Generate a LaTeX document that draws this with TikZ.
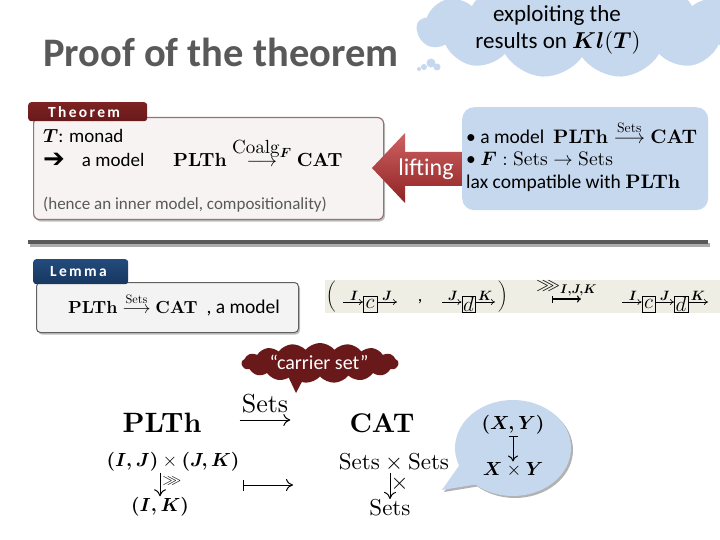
\RequirePackage{fix-cm}
\documentclass[tikz,border=0pt]{standalone}
\usepackage{amsmath,amssymb}
\usepackage[no-math]{fontspec}
\setmainfont{Carlito}
\newfontfamily\dejavu{DejaVu Sans}
\DeclareFontShape{OT1}{cmr}{m}{n}{<-8> cmr7 <8-> cmr10}{}
\DeclareFontShape{OT1}{cmr}{bx}{n}{<-8> cmbx7 <8-> cmbx10}{}
\usetikzlibrary{shapes.symbols,shapes.callouts,arrows.meta,shadows}
\newcommand\fsz[1]{\fontsize{#1}{#1}\selectfont}
\newcommand\bsy[1]{\boldsymbol{#1}}
\definecolor{dred}{RGB}{105,25,25}
\definecolor{dredtop}{RGB}{125,35,35}
\definecolor{dblue}{RGB}{23,55,94}
\definecolor{dbluetop}{RGB}{35,75,125}
\definecolor{lblue}{RGB}{198,216,238}
\definecolor{tgray}{RGB}{89,89,89}
\definecolor{liftred}{RGB}{190,45,45}
\definecolor{stripc}{RGB}{238,238,228}
\definecolor{thmfill}{RGB}{247,243,243}
\definecolor{thmborder}{RGB}{150,115,115}
\definecolor{lemfill}{RGB}{243,243,243}
\begin{document}
\begin{tikzpicture}[x=1pt,y=-1pt,
  every node/.style={inner sep=0pt},
  fs/.style={font=\fsz{#1}},
  sarr/.style={line width=0.6pt,-{Computer Modern Rightarrow[length=4pt,width=6pt]}},
  lab/.style={above=1.5pt,font=\fsz{13.5}},
  cbox/.style={draw,line width=0.5pt,minimum width=13.5pt,minimum height=16pt,font=\fsz{21}},
  bigarr/.style={line width=1pt,-{Computer Modern Rightarrow[length=7pt,width=12pt]}},
  mapsarr/.style={line width=1pt,{Bar[width=11pt]}-{Computer Modern Rightarrow[length=7pt,width=12pt]}},
  tabtext/.style={text=white,font=\fsz{#1}\bfseries\addfontfeatures{LetterSpace=15}},
]
\useasboundingbox (0,0) rectangle (720,540);
\fill[white] (0,0) rectangle (720,540);

% ---- top cloud
\node[cloud, cloud puffs=13, cloud puff arc=115, aspect=3.4, fill=lblue,
      minimum width=330pt, minimum height=100pt] (kcloud) at (582,28) {};
\fill[lblue] (431,63) circle (4.5pt) (424,67) circle (3pt) (437,67) circle (3.5pt) (419,69) circle (2pt);
\node[fs=23] (kc1) at (557,15) {exploiting the};
\node[fs=23] (kc2) at (558,43) {results on $\bsy{Kl}(\bsy{T})$};

% ---- title
\node[anchor=base west, text=tgray, font=\fsz{40.5}\bfseries] (title) at (43,67) {Proof of the theorem};

% ---- theorem box
\node[draw=thmborder, fill=thmfill, rounded corners=6pt, line width=1.2pt,
      minimum width=350pt, minimum height=102pt, anchor=north west,
      drop shadow={shadow xshift=1.5pt,shadow yshift=-2pt,fill=gray,opacity=.5}] (thm) at (33,117) {};
\node[top color=dredtop, bottom color=dred, rounded corners=3pt, anchor=north west,
      minimum width=119pt, minimum height=19pt] (thmtab) at (28,102) {};
\node[tabtext=15.5, anchor=west] (thmtxt) at (48,112) {Theorem};
\node[fs=19, anchor=base west] (t1) at (43,143) {$\bsy{T}$: monad};
\node[fs=19, anchor=base west] (t2) at (43,167) {{\dejavu\fsz{26}\raisebox{-1pt}{➔}}\hspace{17pt}a model};
\node[fs=19, anchor=base west] (t3) at (173,167) {$\mathbf{PLTh}\stackrel{\textstyle\mathrm{Coalg}_{\bsy{F}}}{\longrightarrow}\mathbf{CAT}$};
\node[fs=17, anchor=base west, text=tgray] (t4) at (43,210) {(hence an inner model, compositionality)};

% ---- lifting arrow
\shade[top color=liftred!75!white, bottom color=liftred!75!black]
  (372,168) -- (405,133) -- (405,152) -- (470,152) -- (470,186) -- (405,186) -- (405,203) -- cycle;
\node[fs=24, text=white] (lift) at (426,169) {lifting};

% ---- blue box
\node[fill=lblue, rounded corners=12pt, minimum width=246pt, minimum height=103pt, anchor=north west] (bbox) at (462,107) {};
\node[fs=19.5, anchor=base west] (b1) at (466,144) {\textbullet\ a model\ \ $\mathbf{PLTh}\stackrel{\mathrm{Sets}}{\longrightarrow}\mathbf{CAT}$};
\node[fs=19.5, anchor=base west] (b2) at (466,166) {\textbullet\ $\bsy{F}:\mathrm{Sets}\rightarrow\mathrm{Sets}$};
\node[fs=19.5, anchor=base west] (b3) at (466,189) {lax compatible with $\mathbf{PLTh}$};

% ---- separator
\fill[gray!65] (30,243) rectangle (710,247);
\fill[tgray] (28,240) rectangle (708,244);

% ---- lemma
\node[draw=gray!75!black, fill=lemfill, rounded corners=4pt, line width=1pt,
      minimum width=262pt, minimum height=50pt, anchor=north west,
      drop shadow={shadow xshift=1.5pt,shadow yshift=-2pt,fill=gray,opacity=.5}] (lembox) at (36,282) {};
\node[top color=dbluetop, bottom color=dblue, rounded corners=3pt, anchor=north west,
      minimum width=95pt, minimum height=25pt] (lemtab) at (33,259) {};
\node[tabtext=15.5, anchor=west] (lemtxt) at (50,272) {Lemma};
\node[fs=17.5, anchor=base west] (l1) at (68,313) {$\mathbf{PLTh}\stackrel{\mathrm{Sets}}{\longrightarrow}\mathbf{CAT}$\hspace{9pt}{\fsz{19.5}, a model}};

% ---- strip
\node[fill=stripc, minimum width=395pt, minimum height=33pt, anchor=north west] (strip) at (325,280) {};
\node[fs=13] (lp) at (331,297) {$\biggl($};
\node[fs=13] (rp) at (503,297) {$\biggr)$};
\coordinate (i1) at (343,302);
\node[cbox] (c1) at (370,304) {$c$};
\draw[sarr] (i1) -- (c1.west |- i1) node[lab,pos=0.55] {$\bsy I$};
\coordinate (j1) at (397,302);
\draw[sarr] (c1.east |- i1) -- (j1) node[lab,pos=0.5] {$\bsy J$};
\node[fs=18] (comma) at (420,302) {,};
\coordinate (j2) at (442,302);
\node[cbox] (d1) at (468.5,304) {$d$};
\draw[sarr] (j2) -- (d1.west |- j2) node[lab,pos=0.55] {$\bsy J$};
\coordinate (k1) at (495,302);
\draw[sarr] (d1.east |- j2) -- (k1) node[lab,pos=0.5] {$\bsy K$};
\coordinate (m1) at (552,299);
\coordinate (m2) at (581,299);
\draw[line width=1.1pt,{Bar[width=7pt]}-{Computer Modern Rightarrow[length=4pt,width=7pt]}] (m1) -- (m2);
\node[fs=18, anchor=west] (ggg) at (536,288) {$\ggg_{\bsy{I,J,K}}$};
\coordinate (i2) at (622,302);
\node[cbox] (c2) at (648.5,304) {$c$};
\draw[sarr] (i2) -- (c2.west |- i2) node[lab,pos=0.55] {$\bsy I$};
\node[cbox] (d2) at (681,304) {$d$};
\draw[sarr] (c2.east |- i2) -- (d2.west |- i2) node[lab,pos=0.5] {$\bsy J$};
\coordinate (k2) at (708,302);
\draw[sarr] (d2.east |- i2) -- (k2) node[lab,pos=0.5] {$\bsy K$};

% ---- carrier set cloud
\fill[dred] (287,374) -- (306,374) -- (296,393) -- cycle;
\node[cloud, cloud puffs=17, cloud puff arc=100, aspect=4.2, fill=dred,
      minimum width=157pt, minimum height=40pt] (carrier) at (320,363) {};
\node[fs=20, text=white] (carriertxt) at (319,362) {“carrier set”};

% ---- bottom diagram
\node[fs=28] (plth) at (162,423) {$\mathbf{PLTh}$};
\node[fs=27] (cat) at (382,423) {$\mathbf{CAT}$};
\draw[bigarr] ([xshift=38pt,yshift=3pt]plth.east) -- ([xshift=-59pt,yshift=3pt]cat.west)
   node[midway, above=7pt, font=\fsz{26}] (setslab) {$\mathrm{Sets}$};
\node[fs=19, inner sep=1pt] (ij) at (173,462) {$\bsy{(I,J)}\times\bsy{(J,K)}$};
\node[fs=19, inner sep=1pt] (ik) at (160,507) {$\bsy{(I,K)}$};
\draw[bigarr] (ij.south -| ik) -- (ik.north) node[pos=0.35, right=2pt, font=\fsz{14}] {$\ggg$};
\coordinate (mp1) at (243,485);
\coordinate (mp2) at (293,485);
\draw[mapsarr] (mp1) -- (mp2);
\node[fs=23, inner sep=1pt] (ss) at (394,463) {$\mathrm{Sets}\times\mathrm{Sets}$};
\node[fs=23, inner sep=1pt] (sets) at (390,508) {$\mathrm{Sets}$};
\draw[bigarr] (ss.south -| sets) -- (sets.north) node[pos=0.4, right=0pt, font=\fsz{23}] {$\times$};

% ---- speech bubble
\node[ellipse callout, fill=lblue, minimum width=116pt, minimum height=96pt,
      callout absolute pointer={(442,490)}, callout pointer arc=28,
      drop shadow={shadow xshift=2pt,shadow yshift=-2pt,fill=gray,opacity=.6}] (bub) at (513,448) {};
\node[fs=19, inner sep=1pt] (xy) at (513,425) {$\bsy{(X,Y)}$};
\node[fs=19, inner sep=1pt] (xty) at (513,470) {$\bsy{X}\times\bsy{Y}$};
\draw[line width=1pt,{Bar[width=9pt]}-{Computer Modern Rightarrow[length=6pt,width=10pt]}] (xy) -- (xty);
\end{tikzpicture}
\end{document}
